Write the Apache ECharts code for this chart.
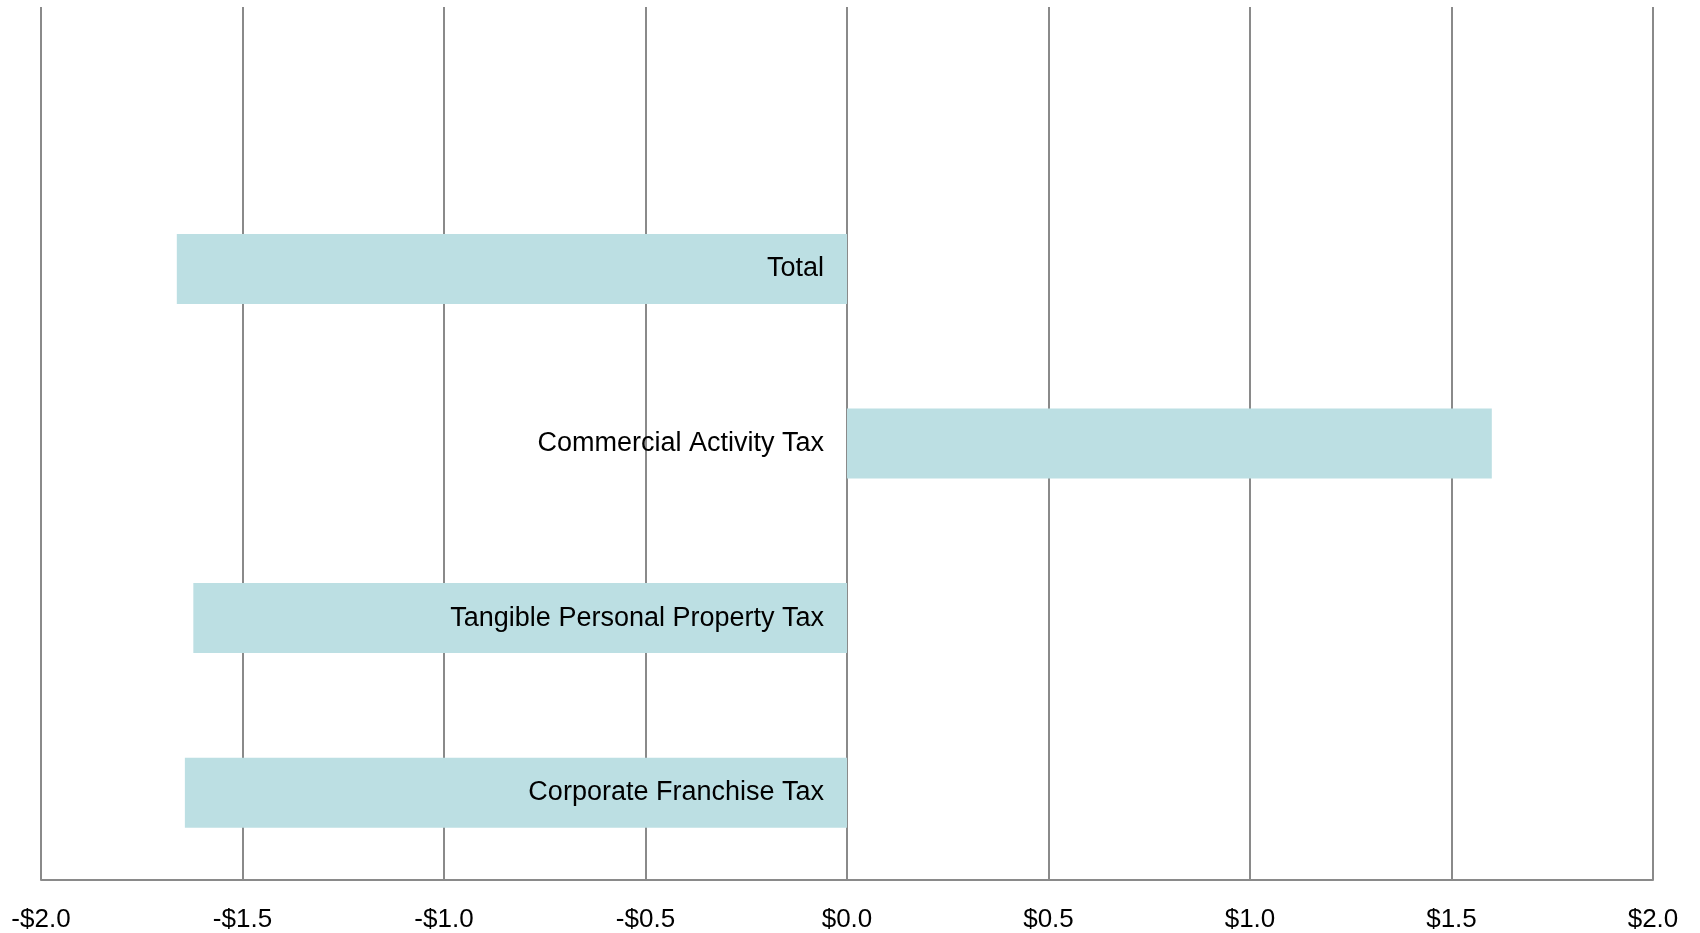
<!DOCTYPE html>
<html>
<head>
<meta charset="utf-8">
<script src="https://cdn.jsdelivr.net/npm/echarts@6/dist/echarts.min.js"></script>
<style>
  html, body { margin: 0; padding: 0; background: #fff; }
  #chart { width: 1700px; height: 933px; }
</style>
</head>
<body>
<div id="chart"></div>
<script>
// categories bottom to top; last one is an empty slot at the top
const categories = ["Corporate Franchise Tax", "Tangible Personal Property Tax", "Commercial Activity Tax", "Total", ""];
const values = [-1.643, -1.622, 1.6, -1.663, null];
const tickMin = -2.0;
const tickMax = 2.0;
const tickStep = 0.5;

const chart = echarts.init(document.getElementById("chart"));

function money(v) {
  const s = "$" + Math.abs(v).toFixed(1);
  return v < 0 ? "-" + s : s;
}

// category name sits next to the zero line, like Excel's "next to axis" labels
const barData = values.map(function (v, i) {
  return {
    value: v,
    label: {
      show: v != null,
      formatter: categories[i],
      position: v < 0 ? "insideRight" : "left",
      distance: 23
    }
  };
});

chart.setOption({
  animation: false,
  grid: { left: 41, right: 47, top: 7, bottom: 53, containLabel: false, outerBoundsMode: "none" },
  xAxis: {
    type: "value",
    min: tickMin,
    max: tickMax,
    interval: tickStep,
    axisLine: { show: true, lineStyle: { color: "#8a8a8a", width: 2 } },
    axisTick: { show: false },
    splitLine: { show: true, lineStyle: { color: "#8a8a8a", width: 2 } },
    axisLabel: {
      formatter: money,
      color: "#000",
      fontSize: 26,
      fontFamily: "Liberation Sans, Arial, sans-serif",
      margin: 27
    }
  },
  yAxis: {
    type: "category",
    data: categories,
    axisLine: { show: false },
    axisTick: { show: false },
    splitLine: { show: false },
    axisLabel: { show: false }
  },
  series: [
    {
      type: "bar",
      data: barData,
      barWidth: 70,
      itemStyle: { color: "#bcdfe3" },
      label: {
        color: "#000",
        fontSize: 27,
        fontFamily: "Liberation Sans, Arial, sans-serif"
      }
    }
  ]
});
</script>
</body>
</html>
